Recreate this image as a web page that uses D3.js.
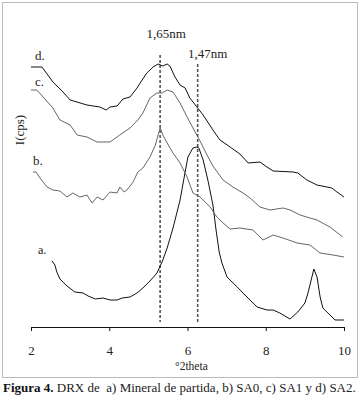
<!DOCTYPE html>
<html>
<head>
<meta charset="utf-8">
<script src="https://cdn.jsdelivr.net/npm/d3@7"></script>
<style>
  body { margin: 0; background: #fff; }
  svg text { font-family: "Liberation Serif", "DejaVu Serif", serif; fill: #222; }
</style>
</head>
<body>
<div id="graph"></div>
<script>
// Difractogrammes (°2theta, intensité relative)
const theta_a = [2.54, 2.61, 2.66, 2.74, 2.84, 2.92, 3.12, 3.33, 3.46, 3.64, 3.84, 4.02, 4.20, 4.33, 4.53, 4.71, 4.86, 5.04, 5.22, 5.35, 5.48, 5.63, 5.81, 5.94, 6.01, 6.14, 6.24, 6.29, 6.40, 6.52, 6.65, 6.73, 6.81, 6.88, 7.01, 7.27, 7.52, 7.78, 8.03, 8.19, 8.36, 8.62, 8.82, 9.00, 9.08, 9.18, 9.23, 9.31, 9.39, 9.46, 9.59, 9.77, 10.00];
const int_a = [66, 62, 55, 48, 44, 41, 35, 34, 31, 28, 29, 27, 27, 29, 30, 34, 39, 46, 54, 65, 79, 99, 127, 155, 170, 179, 180, 179, 167, 147, 122, 97, 75, 64, 50, 40, 30, 20, 17, 17, 14, 8, 15, 24, 34, 50, 58, 50, 30, 19, 14, 7, 7];

const theta_b = [2.05, 2.13, 2.23, 2.41, 2.56, 2.74, 2.92, 3.07, 3.25, 3.43, 3.56, 3.69, 3.84, 4.02, 4.20, 4.27, 4.38, 4.45, 4.61, 4.73, 4.86, 5.04, 5.17, 5.30, 5.37, 5.48, 5.63, 5.81, 5.99, 6.14, 6.32, 6.58, 6.75, 6.91, 7.09, 7.34, 7.67, 7.93, 8.19, 8.44, 8.80, 9.13, 9.39, 9.72, 10.00];
const int_b = [155, 155, 149, 140, 137, 136, 130, 134, 130, 132, 124, 130, 127, 135, 134, 140, 135, 137, 145, 155, 159, 170, 181, 199, 192, 184, 174, 164, 150, 134, 130, 120, 110, 104, 98, 99, 97, 87, 92, 89, 84, 82, 74, 72, 70];

const theta_c = [2.00, 2.15, 2.31, 2.56, 2.74, 3.00, 3.18, 3.43, 3.69, 4.02, 4.27, 4.53, 4.73, 4.86, 5.04, 5.22, 5.35, 5.48, 5.63, 5.81, 5.99, 6.14, 6.32, 6.50, 6.65, 6.91, 7.16, 7.42, 7.60, 7.85, 8.11, 8.44, 8.62, 8.88, 9.13, 9.31, 9.64, 9.97];
const int_c = [237, 237, 230, 219, 207, 202, 192, 190, 185, 185, 192, 199, 207, 214, 229, 234, 234, 237, 235, 224, 210, 199, 186, 172, 161, 147, 140, 134, 129, 120, 117, 119, 117, 112, 109, 107, 100, 90];

const theta_d = [2.00, 2.28, 2.56, 2.82, 3.00, 3.43, 3.76, 3.92, 4.02, 4.20, 4.35, 4.53, 4.71, 4.79, 4.96, 5.12, 5.25, 5.37, 5.48, 5.55, 5.68, 5.81, 5.94, 6.06, 6.24, 6.40, 6.65, 6.83, 7.09, 7.34, 7.55, 7.85, 8.03, 8.19, 8.70, 8.82, 9.05, 9.31, 9.69, 9.82, 10.00];
const int_d = [260, 260, 245, 235, 227, 222, 220, 217, 220, 221, 228, 230, 239, 244, 254, 260, 263, 261, 263, 261, 250, 242, 239, 229, 220, 212, 197, 187, 180, 173, 164, 165, 160, 156, 155, 154, 147, 142, 139, 135, 130];

const series_names = ["a.", "b.", "c.", "d."];
const series_colors = ["#111", "#666", "#666", "#111"];
const tick_values = [2, 4, 6, 8, 10];

// Raies de référence
const ref_labels = ["1,65nm", "1,47nm"];
const ref_theta = [5.30, 6.26];

const largeur = 362, hauteur = 399;

let svg = d3.select("#graph")
    .append("svg")
    .attr("width", largeur)
    .attr("height", hauteur)

// cadre
svg.append("rect")
    .attr("x", 2.5).attr("y", 2.5)
    .attr("width", 355).attr("height", 375)
    .attr("fill", "none")
    .attr("stroke", "#bbb")

// échelles
let x = d3.scaleLinear().domain([2, 10]).range([31, 344]);
let y = d3.scaleLinear().domain([0, 300]).range([327, 27]);

// axe x
let axe = svg.append("g")
    .attr("transform", "translate(0,327)")
    .call(d3.axisBottom(x).tickValues(tick_values).tickSize(4).tickSizeOuter(0).tickPadding(15));
axe.select(".domain").attr("stroke", "#111");
axe.selectAll("line").attr("stroke", "#111");
axe.selectAll("text")
    .style("font-size", "13px")
    .style("font-family", "Liberation Serif")
    .attr("fill", "#222");

svg.append("text")
    .text("°2theta")
    .attr("x", x(6.1))
    .attr("y", 370)
    .attr("text-anchor", "middle")
    .style("font-size", "11.5px")

svg.append("text")
    .text("I(cps)")
    .attr("transform", "translate(24,130) rotate(-90)")
    .attr("text-anchor", "middle")
    .style("font-size", "13px")

// lignes de référence
ref_theta.forEach((t, i) => {
    svg.append("line")
        .attr("x1", x(t)).attr("x2", x(t))
        .attr("y1", i == 0 ? 55 : 64)
        .attr("y2", 322)
        .attr("stroke", "#555")
        .attr("stroke-width", 1.6)
        .attr("stroke-dasharray", "3,2")
    svg.append("text")
        .text(ref_labels[i])
        .attr("x", x(t) + (i == 0 ? 6 : 10))
        .attr("y", i == 0 ? 38 : 58)
        .attr("text-anchor", "middle")
        .style("font-size", "13px")
});

// courbes
const courbes = [
    theta_a.map((t, i) => [t, int_a[i]]),
    theta_b.map((t, i) => [t, int_b[i]]),
    theta_c.map((t, i) => [t, int_c[i]]),
    theta_d.map((t, i) => [t, int_d[i]])
];

let ligne = d3.line()
    .x(d => x(d[0]))
    .y(d => y(d[1]));

svg.selectAll(".courbe")
    .data(courbes)
    .enter()
    .append("path")
    .attr("class", "courbe")
    .attr("d", ligne)
    .attr("fill", "none")
    .attr("stroke", (d, i) => series_colors[i])
    .attr("stroke-width", 1)

// étiquettes des courbes
const pos_labels = [[38, 254], [33, 165], [35, 86], [35, 60]];
series_names.forEach((n, i) => {
    svg.append("text")
        .text(n)
        .attr("x", pos_labels[i][0])
        .attr("y", pos_labels[i][1])
        .style("font-size", i == 0 ? "12px" : "13px")
});

// légende
let legende = svg.append("text")
    .attr("x", 3)
    .attr("y", 392)
    .style("font-size", "13px")
legende.append("tspan").text("Figura 4.").style("font-weight", "bold").attr("fill", "#111")
legende.append("tspan").text(" DRX de  a) Mineral de partida, b) SA0, c) SA1 y d) SA2.").attr("xml:space", "preserve")
</script>
</body>
</html>
